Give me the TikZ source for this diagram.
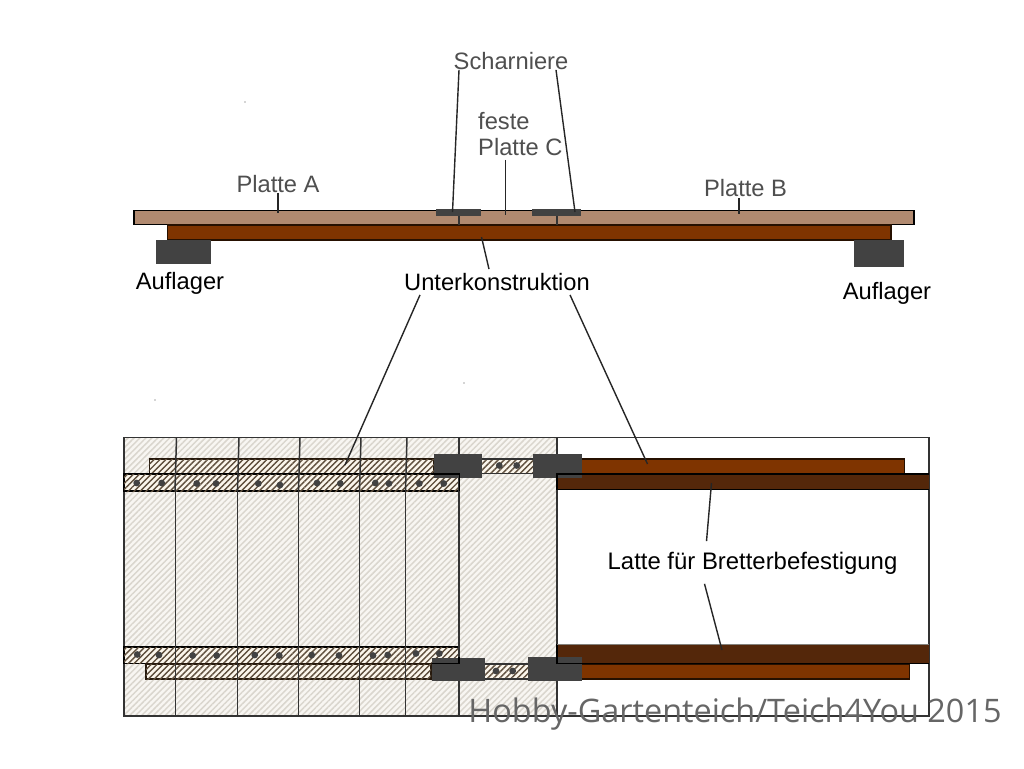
\documentclass[tikz,border=0pt]{standalone}
\usepackage{fontspec}
\setmainfont{Liberation Sans}
\newfontfamily\markfont{Open Sans}
\usetikzlibrary{patterns.meta}
\definecolor{plankcol}{HTML}{B18A70}
\definecolor{beamcol}{HTML}{7F3400}
\definecolor{lathcol}{HTML}{54270A}
\definecolor{irongrey}{HTML}{424242}
\definecolor{textgrey}{HTML}{4F4F4F}
\definecolor{panelbg}{HTML}{F8F6F2}
\definecolor{panelhatch}{HTML}{DAD6CE}
\definecolor{lathbg}{HTML}{FBF6EC}
\definecolor{lathhatch}{HTML}{5E4E3C}
\tikzstyle{txt} = [font=\fontsize{23.7}{26}\selectfont,inner sep=1pt]
\tikzstyle{greytxt} = [txt,text=textgrey]
\tikzstyle{plank} = [draw=black,line width=1.2pt,fill=plankcol]
\tikzstyle{beam} = [draw=black!70!beamcol,line width=1.2pt,fill=beamcol]
\tikzstyle{iron} = [fill=irongrey]
\tikzstyle{lead} = [draw=black!85,line width=1.4pt]
\tikzstyle{line} = [draw=black!80,line width=1.5pt]
\tikzstyle{panel} = [fill=panelbg,postaction={pattern={Lines[angle=45,distance=4.2pt,line width=1.5pt]},pattern color=panelhatch}]
\tikzstyle{strip} = [fill=lathbg,postaction={pattern={Lines[angle=45,distance=4.2pt,line width=1.4pt]},pattern color=lathhatch}]
\begin{document}
\begin{tikzpicture}[x=1pt,y=-1pt]
\useasboundingbox (0,0) rectangle (1024,768);
\fill[white] (0,0) rectangle (1024,768);

\foreach \x/\y in {245/102,155/400,464/383,309/552}
  \fill[black!70] (\x,\y) circle (.6);

\draw[plank] (134,210.5) rectangle (914,224.5);
\draw[beam] (167.5,225) rectangle (891,240);
\fill[iron] (156,240) rectangle (211,264);
\fill[iron] (854,240) rectangle (904,267);
\fill[iron] (436,209) rectangle (481,216);
\fill[iron] (532,209) rectangle (581,216);
\draw[line] (459,216)--(459,225);
\draw[line] (557,216)--(557,225);

\node [greytxt](pa) at (278,184){Platte A};
\node [greytxt](pb) at (745.5,188){Platte B};
\node [greytxt](sch) at (511,61){Scharniere};
\node [greytxt,align=left,anchor=west](pc) at (477,134){feste\\Platte C};
\node [txt](a1) at (180,283.5){Auflager};
\node [txt](a2) at (887,293.5){Auflager};
\node [txt](uk) at (497,282){Unterkonstruktion};
\node [txt,font=\fontsize{23.9}{26}\selectfont](lb) at (752.5,563.5){Latte für Bretterbefestigung};

\coordinate (pa1) at (278,213);
\coordinate (pb1) at (739,214);
\coordinate (pc1) at (505.5,215);
\coordinate (h1) at (452.5,212);
\coordinate (h2) at (575,212);
\coordinate (uk1) at (481.5,237);
\coordinate (uk2) at (345,465);
\coordinate (uk3) at (647.5,464);
\coordinate (lt1) at (711.5,483);
\coordinate (lt2) at (722,650);

\fill[panel] (124,437.5) rectangle (557,716);
\draw[line] (124,437.5) rectangle (929,716);
\draw[line] (557,437.5)--(557,716);

\draw[strip,draw=black!80!brown,line width=1.3pt] (149.5,459) rectangle (434,473.5);
\fill[strip] (481,459) rectangle (533,473.5);
\draw[black!80,line width=1.3pt] (481,459)--(533,459) (481,473.5)--(533,473.5);
\draw[strip,draw=black,line width=1.5pt] (124,474) rectangle (459.5,491);
\draw[beam] (581,459) rectangle (904.5,473.5);
\fill[lathcol] (557,474) rectangle (929,489.5);

\draw[strip,draw=black,line width=1.5pt] (124,647) rectangle (459,663.5);
\draw[strip,draw=black!80!brown,line width=1.3pt] (146,664) rectangle (431,679);
\fill[strip] (485,664) rectangle (528,679);
\draw[black!80,line width=1.3pt] (485,664)--(528,664) (485,679)--(528,679);
\draw[beam] (581,664.5) rectangle (909.5,679);
\fill[lathcol] (557,644) rectangle (929,663);

\foreach \x in {176.5,239,300,361,407}
  \draw[line] (\x,437.5)--(\x-1.5,491);
\foreach \x in {175.5,237.5,298.5,359.5,405.5}
  \draw[line] (\x,491)--(\x,716);
\draw[line] (459,437.5)--(459,716);

\fill[iron] (434,454) rectangle (481.5,477.5);
\fill[iron] (533,453.5) rectangle (581.5,477.5);
\fill[iron] (431.5,657.5) rectangle (485,681);
\fill[iron] (528,657) rectangle (581.5,680.5);

\draw[black,line width=1.5pt] (434,474)--(459.5,474)--(459.5,491);
\draw[black,line width=1.5pt] (929,474)--(557,474)--(557,489.5)--(929,489.5);
\draw[black,line width=1.5pt] (431.5,663.5)--(459,663.5)--(459,657);
\draw[black,line width=1.8pt] (557,644)--(557,663.5)--(929,663.5);
\draw[panelhatch!60!black,line width=.6pt] (557,644)--(929,644);

\foreach \x/\y in {136.7/483,161.7/483,196.7/483.5,216/483.5,258.3/483.5,280/485,317/483,340.3/483.5,375.3/483,389/483.5,419.3/483.5,443.7/483.5,499.3/465.5,516.7/465.5,137.3/654.5,159/655,192.7/655.5,216.7/655.5,254.7/655,279.3/655.5,311.7/655,339/655.5,373/655.5,387.7/655,416/653.5,439.3/653.5,496/671,512.7/671}
  \fill[irongrey] (\x,\y) circle (3.4);

\draw[lead] (pa.south)++(0,-1)--(pa1);
\draw[lead] (pb.south)++(-6.5,0)--(pb1);
\draw[lead] (pc.south west)++(28.5,3)--(pc1);
\draw[lead] (sch.south)++(-52,-1)--(h1);
\draw[lead] (sch.south)++(45,-1)--(h2);
\draw[lead] (uk.north)++(-8,-3)--(uk1);
\draw[lead] (uk.south)++(-77,3)--(uk2);
\draw[lead] (uk.south)++(73,3)--(uk3);
\draw[lead] (lb.north)++(-46,-10)--(lt1);
\draw[lead] (lb.south)++(-48,8)--(lt2);

\node [text=black!60,font=\markfont\fontsize{32.4}{36}\selectfont,inner sep=0pt](wm) at (735,714.5){Hobby-Gartenteich/Teich4You 2015};
\end{tikzpicture}
\end{document}
